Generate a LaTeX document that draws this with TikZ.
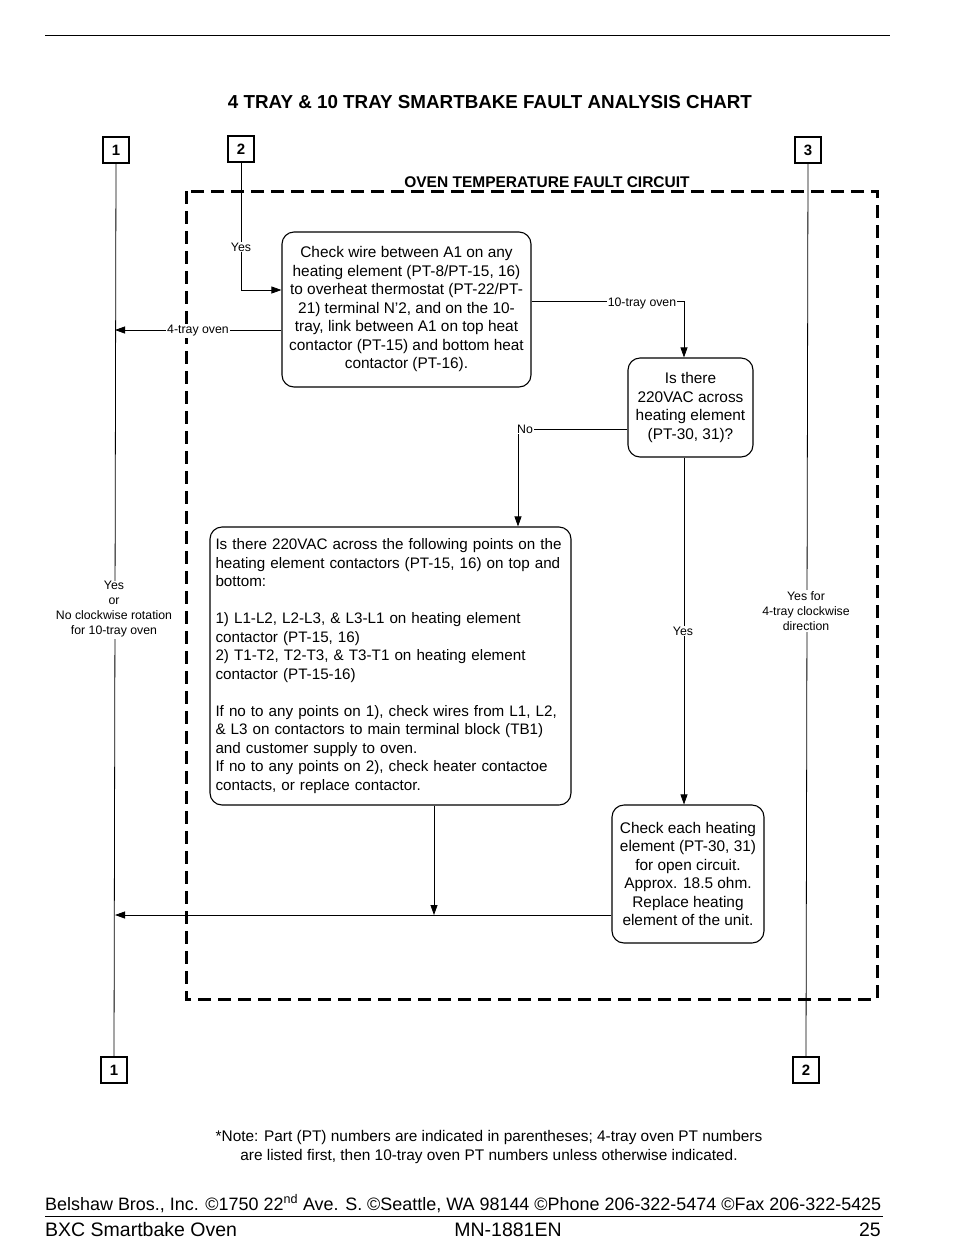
\documentclass[tikz,border=0pt]{standalone}
\usepackage{fontspec}
\setmainfont{Liberation Sans}
\usetikzlibrary{arrows.meta,calc}
\begin{document}
\begin{tikzpicture}[x=1pt,y=-1pt,
  conn/.style={draw,line width=1.1pt,minimum width=26pt,minimum height=26pt,inner sep=0pt,font=\bfseries\fontsize{15}{15}\selectfont},
  rbox/.style={draw,rounded corners=12pt,line width=1.1pt,align=center,inner sep=0pt,font=\fontsize{15.4}{18.5}\selectfont},
  lbl/.style={font=\fontsize{12.3}{15}\selectfont,fill=white,inner sep=1pt,align=center},
  flow/.style={line width=0.8pt},
  arr/.style={flow,-{Triangle[length=10pt,width=7pt]}},
  frame/.style={line width=3pt,dash pattern=on 13pt off 7pt}]
\useasboundingbox (0,0) rectangle (954,1259);
% rules and titles
\draw[line width=0.8pt] (45,35) -- (890,35);
\node[font=\bfseries\fontsize{18.8}{18.8}\selectfont,anchor=base,inner sep=0pt] (title) at (490,108) {4 TRAY \& 10 TRAY SMARTBAKE FAULT ANALYSIS CHART};
\draw[frame] (186,191) rectangle (877,999);
\node[font=\bfseries\fontsize{15.5}{15.5}\selectfont,anchor=base,inner sep=0pt] (ftitle) at (547,187) {OVEN TEMPERATURE FAULT CIRCUIT};
% connectors (off-page)
\node[conn] (c1t) at (116,150) {1};
\node[conn] (c2t) at (241,149) {2};
\node[conn] (c3t) at (808,150) {3};
\node[conn] (c1b) at (114,1070) {1};
\node[conn] (c2b) at (806,1070) {2};
% boxes
\node[rbox,minimum width=249pt,minimum height=155pt] (A) at (406.5,309.5) {Check wire between A1 on any\\heating element (PT-8/PT-15, 16)\\to overheat thermostat (PT-22/PT-\\21) terminal N'2, and on the 10-\\tray, link between A1 on top heat\\contactor (PT-15) and bottom heat\\contactor (PT-16).};
\node[rbox,minimum width=125pt,minimum height=99pt] (B) at (690.5,407.5) {Is there\\220VAC across\\heating element\\(PT-30, 31)?};
\node[rbox,minimum width=361pt,minimum height=278pt,align=left,text width=350pt,font=\fontsize{15.2}{18.5}\selectfont] (C) at (390.5,666) {Is there 220VAC across the following points on the\\heating element contactors (PT-15, 16) on top and\\bottom:\\[18.5pt]1) L1-L2, L2-L3, \& L3-L1 on heating element\\contactor (PT-15, 16)\\2) T1-T2, T2-T3, \& T3-T1 on heating element\\contactor (PT-15-16)\\[18.5pt]If no to any points on 1), check wires from L1, L2,\\\& L3 on contactors to main terminal block (TB1)\\and customer supply to oven.\\If no to any points on 2), check heater contactoe\\contacts, or replace contactor.};
\node[rbox,minimum width=152pt,minimum height=138pt] (D) at (688,874) {Check each heating\\element (PT-30, 31)\\for open circuit.\\Approx. 18.5 ohm.\\Replace heating\\element of the unit.};
% junction coordinates on the left return line
\coordinate (L1) at (115,330);
\coordinate (L2) at (115,915);
% flow lines
\draw[flow] (c1t.south) -- (c1b.north);
\draw[flow] (c3t.south) -- (c2b.north);
\draw[arr] (c2t.south) |- ([yshift=19.5pt]A.west);
\draw[arr] ([yshift=-20.5pt]A.west) -- (L1);
\draw[arr] ([yshift=8.5pt]A.east) -| ([xshift=-6.5pt]B.north);
\draw[arr] ([yshift=-21.5pt]B.west) -| ([xshift=127.5pt]C.north);
\draw[arr] ([xshift=-6.5pt]B.south) -- ([xshift=-6.5pt]B.south |- D.north);
\draw[arr] ([xshift=43.5pt]C.south) -- ([xshift=43.5pt]C.south |- L2);
\draw[arr] (D.west |- L2) -- (L2);
% labels
\node[lbl] (yes2) at (241,247) {Yes};
\node[lbl] (four) at (198,331) {4-tray oven};
\node[lbl] (ten) at (642,303) {10-tray oven};
\node[lbl] (no) at (525,429) {No};
\node[lbl] (yesB) at (683,631) {Yes};
\node[lbl] (leftlbl) at (114,609.5) {Yes\\or\\No clockwise rotation\\for 10-tray oven};
\node[lbl] (rightlbl) at (806,611) {Yes for\\4-tray clockwise\\direction};
% note and footer
\node[font=\fontsize{15.4}{19}\selectfont,align=center] (note) at (489,1147.5) {*Note: Part (PT) numbers are indicated in parentheses; 4-tray oven PT numbers\\are listed first, then 10-tray oven PT numbers unless otherwise indicated.};
\node[font=\fontsize{17.95}{18}\selectfont,anchor=base west,inner sep=0pt] (addr) at (45,1210) {Belshaw Bros., Inc. ©1750 22\textsuperscript{nd} Ave. S. ©Seattle, WA 98144 ©Phone 206-322-5474 ©Fax 206-322-5425};
\draw[line width=0.8pt] (45,1216) -- (883,1216);
\node[font=\fontsize{19.5}{19.5}\selectfont,anchor=base west,inner sep=0pt] (f1) at (45,1236) {BXC Smartbake Oven};
\node[font=\fontsize{19.5}{19.5}\selectfont,anchor=base,inner sep=0pt] (f2) at (508,1236) {MN-1881EN};
\node[font=\fontsize{19.5}{19.5}\selectfont,anchor=base east,inner sep=0pt] (f3) at (881,1236) {25};
\end{tikzpicture}
\end{document}
